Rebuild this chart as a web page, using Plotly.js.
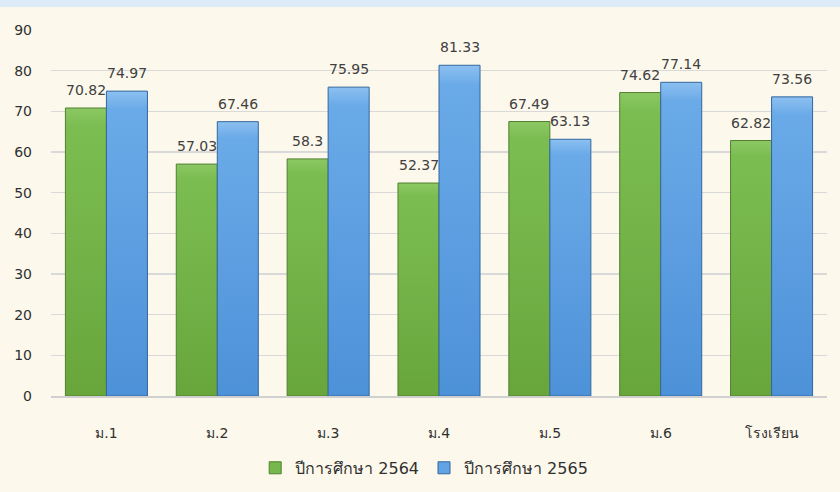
<!DOCTYPE html>
<html><head><meta charset="utf-8">
<script src="https://cdn.plot.ly/plotly-3.0.1.min.js"></script>
<style>html,body{margin:0;padding:0;background:#fdf8ec;}#band{position:absolute;left:0;top:0;width:840px;height:7px;background:#dcebf7;}#c{width:840px;height:492px;}</style>
</head><body><div id="c"></div><div id="band"></div>
<script>
const categories = ["ม.1","ม.2","ม.3","ม.4","ม.5","ม.6","โรงเรียน"];
const y2564 = [70.82,57.03,58.3,52.37,67.49,74.62,62.82];
const y2565 = [74.97,67.46,75.95,81.33,63.13,77.14,73.56];
const seriesNames = ["ปีการศึกษา 2564","ปีการศึกษา 2565"];
const font = "Tahoma, 'DejaVu Sans', 'Noto Sans', sans-serif";
const traces = [
 {type:'bar', x:categories, y:y2564, name:seriesNames[0],
  marker:{color:'#76b84c', line:{color:'#4f8030',width:1}}},
 {type:'bar', x:categories, y:y2565, name:seriesNames[1],
  marker:{color:'#62a3e3', line:{color:'#33679e',width:1}}}
];
const annotations = [];
[[y2564,-20.5],[y2565,20.5]].forEach(([vals,dx])=>{
  vals.forEach((v,i)=>annotations.push({x:categories[i], y:v, xref:'x', yref:'y', text:String(v), showarrow:false,
    xshift:dx, yshift:8, yanchor:'bottom', font:{size:14,color:'#404040',family:font}}));
});
const layout = {
 width:840, height:492, paper_bgcolor:'#fdf8ec', plot_bgcolor:'#fdf8ec',
 margin:{l:51,r:13,t:30,b:96},
 font:{family:font,size:14,color:'#303030'},
 barmode:'group', bargap:0.26, bargroupgap:0,
 annotations:annotations,
 xaxis:{tickfont:{size:14,color:'#303030'}, showline:true, linecolor:'#d0d0d0', linewidth:1.5, ticks:'', ticklabelstandoff:24, fixedrange:true, automargin:false},
 yaxis:{range:[0,90], dtick:10, gridcolor:'#d9d9d9', gridwidth:1.5, zeroline:false, tickfont:{size:14,color:'#303030'}, ticks:'', ticklabelstandoff:18, automargin:false},
 showlegend:true,
 legend:{orientation:'h', x:0.505, xref:'container', yref:'container', xanchor:'center', y:0.049, yanchor:'middle', font:{size:16,color:'#303030'}, itemwidth:30}
};
Plotly.newPlot('c', traces, layout, {staticPlot:true}).then(gd=>{
  const svg = gd.querySelector('svg.main-svg');
  const ns = 'http://www.w3.org/2000/svg';
  let defs = svg.querySelector('defs');
  const mk=(id,stops)=>{const g=document.createElementNS(ns,'linearGradient');g.setAttribute('id',id);g.setAttribute('x1','0');g.setAttribute('y1','0');g.setAttribute('x2','0');g.setAttribute('y2','1');
    stops.forEach(([o,c])=>{const s=document.createElementNS(ns,'stop');s.setAttribute('offset',o);s.setAttribute('stop-color',c);g.appendChild(s);});defs.appendChild(g);};
  mk('gg',[['0','#8cc864'],['0.06','#7cbd52'],['1','#68a63c']]);
  mk('gb',[['0','#8cc0f0'],['0.06','#6aaae8'],['1','#4d91d8']]);
  const tr = gd.querySelectorAll('.barlayer .trace');
  tr.forEach((t,k)=>t.querySelectorAll('path').forEach(p=>{p.style.fill = k===0?'url(#gg)':'url(#gb)';}));
});
</script></body></html>
